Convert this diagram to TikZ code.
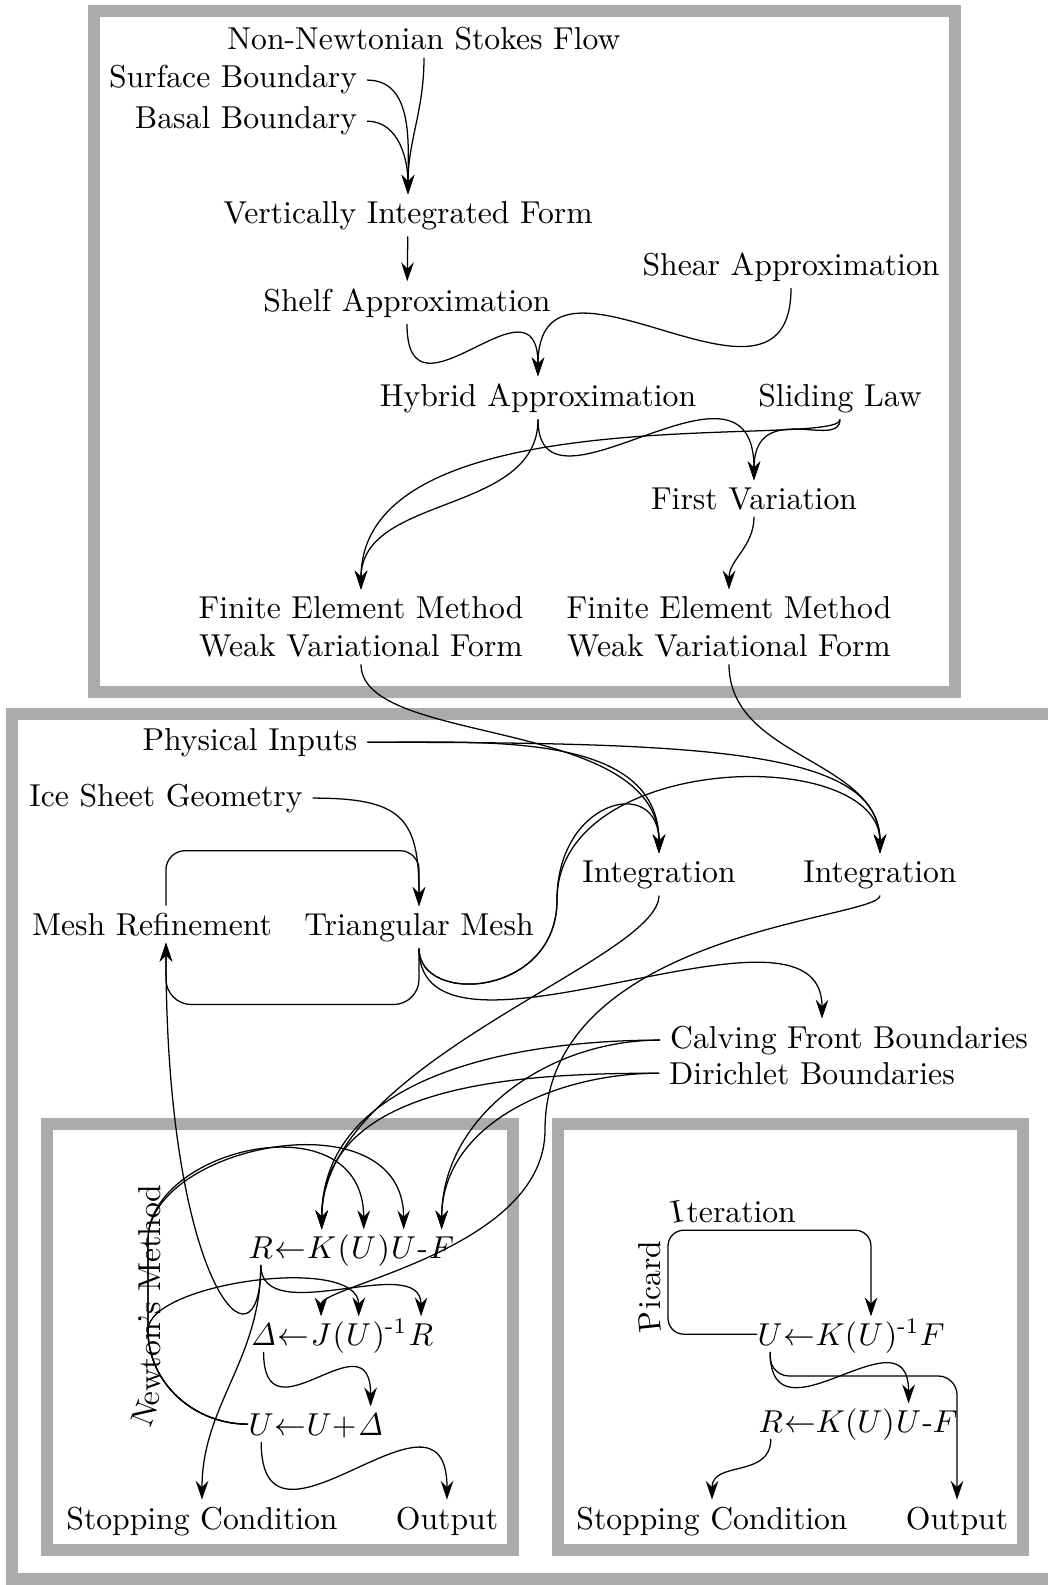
\documentclass[tikz,border=0pt]{standalone}
\usepackage{amsmath}
\usetikzlibrary{arrows.meta,calc,positioning,decorations.text}

\definecolor{framegray}{gray}{0.67}

\tikzset{
  panel/.style={draw=framegray, line width=3.5pt},
  lbl/.style={inner xsep=3pt, inner ysep=2pt, anchor=base},
  sym/.style={inner xsep=0pt, inner ysep=2pt, anchor=base west},
  flow/.style={-{Stealth[length=6pt,width=4pt,inset=2pt]}},
}

\begin{document}
\begin{tikzpicture}[x=0.0111cm, y=-0.0111cm]
       \useasboundingbox (0,0) rectangle (1048,1585);

       \draw[panel] (94,11) rectangle (955,692);
       \draw[panel] (12,714) rectangle (1070,1579);
       \draw[panel] (47,1124) rectangle (513,1550);
       \draw[panel] (558,1124) rectangle (1023,1550);

       % model
       \node[lbl] (stokes) at (424,50) {Non-Newtonian Stokes Flow};
       \node[lbl] (surface) at (233,88) {Surface Boundary};
       \node[lbl] (basal) at (246,129) {Basal Boundary};
       \node[lbl] (vert) at (408,223) {Vertically Integrated Form};
       \node[lbl] (shelf) at (407,311) {Shelf Approximation};
       \node[lbl] (shear) at (791,275) {Shear Approximation};
       \node[lbl] (hybrid) at (538,406) {Hybrid Approximation};
       \node[lbl] (sliding) at (840,406) {Sliding Law};
       \node[lbl] (first) at (754,509) {First Variation};
       \node[lbl, anchor=center, align=center] (femA) at (361,627) {Finite Element Method\\Weak Variational Form};
       \node[lbl, anchor=center, align=center] (femB) at (729,627) {Finite Element Method\\Weak Variational Form};

       % discretisation
       \node[lbl] (phys) at (250,750) {Physical Inputs};
       \node[lbl] (ice) at (166,806) {Ice Sheet Geometry};
       \node[lbl] (intA) at (659,882) {Integration};
       \node[lbl] (intB) at (880,882) {Integration};
       \node[lbl] (mesh) at (152,935) {Mesh Refinement};
       \node[lbl] (tri) at (419,935) {Triangular Mesh};
       \node[lbl] (calving) at (849,1048) {Calving Front Boundaries};
       \node[lbl] (dirichlet) at (812,1084) {Dirichlet Boundaries};

       % newton
       \node[sym] (aR) at (248,1258) {$R$};
       \node[sym] (aL) at (aR.base east) {$\leftarrow$};
       \node[sym] (aK) at (aL.base east) {$K$};
       \node[sym] (aP) at (aK.base east) {$($};
       \node[sym] (aU) at (aP.base east) {$U$};
       \node[sym] (aQ) at (aU.base east) {$)$};
       \node[sym] (aV) at (aQ.base east) {$U$};
       \node[sym] (aM) at (aV.base east) {-};
       \node[sym] (aF) at (aM.base east) {$F$};

       \node[sym] (bD) at (250,1345) {$\mathit{\Delta}$};
       \node[sym] (bL) at (bD.base east) {$\leftarrow$};
       \node[sym] (bJ) at (bL.base east) {$J$};
       \node[sym] (bP) at (bJ.base east) {$($};
       \node[sym] (bU) at (bP.base east) {$U$};
       \node[sym] (bQ) at (bU.base east) {$)^{\text{-}1}$};
       \node[sym] (bR) at (bQ.base east) {$R$};

       \node[sym] (cU) at (248,1435) {$U$};
       \node[sym] (cM) at (cU.base east) {${\leftarrow}U{+}$};
       \node[sym] (cD) at (cM.base east) {$\mathit{\Delta}$};

       \node[lbl] (stopA) at (202,1529) {Stopping Condition};
       \node[lbl] (outA) at (447,1529) {Output};

       % picard
       \node[sym] (dU) at (757,1345) {$U$};
       \node[sym] (dM) at (dU.base east) {${\leftarrow}K($};
       \node[sym] (dV) at (dM.base east) {$U$};
       \node[sym] (dR) at (dV.base east) {$)^{\text{-}1}F$};

       \node[sym] (eR) at (758,1432) {$R$};
       \node[sym] (eM) at (eR.base east) {${\leftarrow}K(U)$};
       \node[sym] (eU) at (eM.base east) {$U$};
       \node[sym] (eF) at (eU.base east) {-$F$};

       \node[lbl] (stopB) at (712,1529) {Stopping Condition};
       \node[lbl] (outB) at (957,1529) {Output};

       \coordinate (jBend) at (545,1130);
       \coordinate (triBend) at (557,900);
       \coordinate (nLoop) at (148,1330);
       \coordinate (nLoopTop) at (148,1240);

       \draw[flow] (stokes.south) to[out=-90,in=90] (vert.north);
       \draw[flow] (surface.east) to[out=0,in=90] (vert.north);
       \draw[flow] (basal.east) to[out=0,in=90] (vert.north);
       \draw[flow] (vert) -- (shelf);
       \draw[flow] (shelf.south) to[out=-90,in=90,looseness=2] (hybrid.north);
       \draw[flow] (shear.south) to[out=-90,in=90,looseness=1.5] (hybrid.north);
       \draw[flow] (hybrid.south) to[out=-90,in=90] (femA.north);
       \draw[flow] (hybrid.south) to[out=-90,in=90,out looseness=1.3,in looseness=1.7] (first.north);
       \draw[flow] (sliding.south) to[out=-90,in=90,out looseness=0.75,in looseness=2] (first.north);
       \draw[flow] (sliding.south) to[out=-90,in=90,out looseness=0.15,in looseness=1] (femA.north);
       \draw[flow] (first.south) to[out=-90,in=90] (femB.north);

       \draw[flow] (femA.south) to[out=-90,in=90,out looseness=0.6] (intA.north);
       \draw[flow] (femB.south) to[out=-90,in=90] (intB.north);
       \draw[flow] (phys.east) to[out=0,in=90] (intA.north);
       \draw[flow] (phys.east) to[out=0,in=90,out looseness=1.7,in looseness=0.5] (intB.north);
       \draw[flow] (ice.east) to[out=0,in=90,looseness=1.5] (tri.north);
       \draw[flow, rounded corners=6pt] ($(mesh.north)+(14,0)$) -- ++(0,-55) -| (tri.north);
       \draw[flow, rounded corners=8pt] (tri.south) -- ++(0,56) -| ($(mesh.south)+(14,0)$);
       \draw[flow] (tri.south) to[out=-90,in=-90,out looseness=1,in looseness=1.7] (triBend)
              to[out=90,in=90,out looseness=2.3,in looseness=1.8] (intA.north);
       \draw[flow] (tri.south) to[out=-90,in=-90,out looseness=1,in looseness=1.7] (triBend)
              to[out=90,in=90,out looseness=1.17,in looseness=0.86] (intB.north);
       \draw[flow] (tri.south) to[out=-90,in=90,looseness=0.9] ($(calving.north)+(-27,0)$);

       \draw[flow] (intA.south) to[out=-90,in=90,out looseness=0.35,in looseness=0.9] (aK.north);
       \draw[flow] (calving.west) to[out=180,in=90] (aK.north);
       \draw[flow] (calving.west) to[out=180,in=90] (aF.north);
       \draw[flow] (dirichlet.west) to[out=180,in=90] (aK.north);
       \draw[flow] (dirichlet.west) to[out=180,in=90] (aF.north);
       \draw[flow] (intB.south) to[out=-90,in=90,out looseness=0.15,in looseness=1.25] (jBend)
              to[out=-90,in=90,out looseness=1.05,in looseness=0.27] (bJ.north);

       \draw[flow] (cU.west) to[out=180,in=-90] (nLoop) -- (nLoopTop)
              to[out=90,in=90,out looseness=1.1,in looseness=1.55] (aU.north);
       \draw[flow] (cU.west) to[out=180,in=-90] (nLoop) -- (nLoopTop)
              to[out=90,in=90,out looseness=0.95,in looseness=1.35] (aV.north);
       \draw[flow] (cU.west) to[out=180,in=-90] (nLoop) to[out=90,in=90,out looseness=0.57,in looseness=0.76] (bU.north);
       \path[decorate, decoration={text along path, text={Newton's Method}}]
              (150,1428) to[out=60,in=-90] (160,1385) -- (160,1170);
       \draw[flow] (aR.south) to[out=-90,in=90] (bR.north);
       \draw[flow] (aR.south) to[out=-90,in=90] (stopA.north);
       \draw[flow] (aR.south) to[out=-90,in=-90,out looseness=0.9,in looseness=2.65] ($(mesh.south)+(14,0)$);
       \draw[flow] (bD.south) to[out=-90,in=90,looseness=2] (cD.north);
       \draw[flow] (cU.south) to[out=-90,in=90,looseness=1.8] (outA.north);

       \draw[flow, rounded corners=5pt, postaction={decorate, decoration={text along path, text={Picard Iteration}, raise=2.5pt, text align={left indent=0.95cm}}}]
              (dU.west) -| ++(-89,-104) -| (dV.north);
       \draw[flow] (dU.south) to[out=-90,in=90,looseness=1.7] (eU.north);
       \draw[flow, rounded corners=6pt] (dU.south) |- ++(60,24) -| (outB.north);
       \draw[flow] (eR.south) to[out=-90,in=90,looseness=1.2] (stopB.north);

      \end{tikzpicture}
\end{document}
